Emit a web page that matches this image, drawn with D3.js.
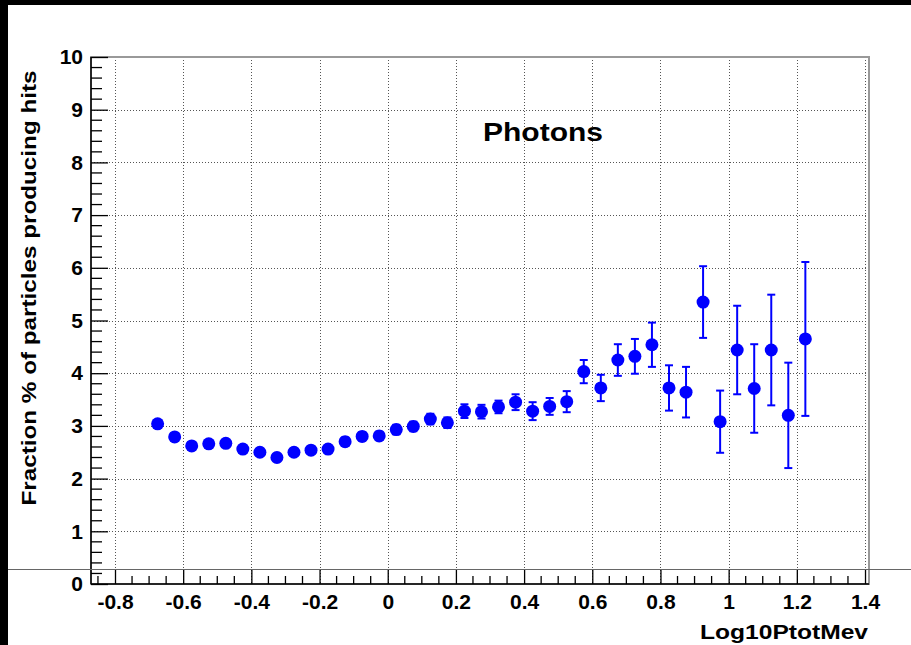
<!DOCTYPE html>
<html><head><meta charset="utf-8">
<script src="https://cdn.jsdelivr.net/npm/d3@7"></script>
<style>body{margin:0;background:#fff}svg{display:block}</style>
</head><body>
<script>
const xCenters = [-0.675,-0.625,-0.575,-0.525,-0.475,-0.425,-0.375,-0.325,-0.275,-0.225,-0.175,-0.125,-0.075,-0.025,0.025,0.075,0.125,0.175,0.225,0.275,0.325,0.375,0.425,0.475,0.525,0.575,0.625,0.675,0.725,0.775,0.825,0.875,0.925,0.975,1.025,1.075,1.125,1.175,1.225];
const yValues = [3.04,2.79,2.62,2.66,2.67,2.56,2.50,2.40,2.50,2.54,2.56,2.70,2.80,2.81,2.93,2.99,3.13,3.06,3.28,3.27,3.36,3.45,3.28,3.37,3.46,4.03,3.72,4.25,4.32,4.54,3.72,3.64,5.35,3.08,4.44,3.71,4.44,3.20,4.65];
const yErrors = [0.07,0.07,0.07,0.07,0.07,0.07,0.07,0.07,0.07,0.07,0.07,0.08,0.08,0.08,0.09,0.09,0.10,0.10,0.13,0.13,0.12,0.15,0.17,0.16,0.20,0.22,0.25,0.30,0.33,0.42,0.43,0.48,0.68,0.59,0.84,0.84,1.05,1.00,1.46];
const xTicks = [-0.8,-0.6,-0.4,-0.2,0,0.2,0.4,0.6,0.8,1,1.2,1.4];
const xTickLabels = ["-0.8","-0.6","-0.4","-0.2","0","0.2","0.4","0.6","0.8","1","1.2","1.4"];
const yTicks = [0,1,2,3,4,5,6,7,8,9,10];
const title = "Photons";
const xTitle = "Log10PtotMev";
const yTitle = "Fraction % of particles producing hits";

const W = 911, H = 645;
const svg = d3.select("body").append("svg").attr("width", W).attr("height", H);
svg.append("rect").attr("width", W).attr("height", H).attr("fill", "#fff");
svg.append("rect").attr("x",0).attr("y",0).attr("width",W).attr("height",5).attr("fill","#000");
svg.append("rect").attr("x",0).attr("y",0).attr("width",8).attr("height",H).attr("fill","#000");

const x = d3.scaleLinear().domain([-0.8704, 1.4117]).range([91, 869]);
const y = d3.scaleLinear().domain([0, 10]).range([584, 57]);
const font = "'Liberation Sans', Arial, Helvetica, sans-serif";

const grid = svg.append("g").attr("stroke", "#555").attr("stroke-width", 1).attr("stroke-dasharray", "1,2");
grid.selectAll("line.v").data(xTicks).join("line")
  .attr("x1", d => Math.round(x(d))+0.5).attr("x2", d => Math.round(x(d))+0.5)
  .attr("y1", y(10)).attr("y2", y(0));
grid.selectAll("line.h").data(yTicks.slice(1, -1)).join("line")
  .attr("y1", d => Math.round(y(d))+0.5).attr("y2", d => Math.round(y(d))+0.5)
  .attr("x1", x.range()[0]).attr("x2", x.range()[1]);

svg.append("rect").attr("x", 91).attr("y", 57).attr("width", 869-91).attr("height", 584-57)
  .attr("fill", "none").attr("stroke", "#999").attr("stroke-width", 2);

const xMinor = d3.range(-0.85, 1.4001, 0.05).filter(v => Math.abs(Math.round(v*5) - v*5) > 1e-6);
const xAxis = svg.append("g").attr("transform", "translate(0,584)");
xAxis.call(d3.axisBottom(x).tickValues(xTicks).tickSize(-15).tickPadding(20)
  .tickFormat((d, i) => xTickLabels[i]));
xAxis.selectAll(".tick line").attr("stroke", "#000").attr("stroke-width", 1.3);
xAxis.selectAll("line.minor").data(xMinor).join("line").attr("class","minor")
  .attr("x1", d => x(d)).attr("x2", d => x(d)).attr("y1", 0).attr("y2", -8)
  .attr("stroke", "#000").attr("stroke-width", 1.3);
xAxis.select(".domain").attr("stroke", "#000").attr("stroke-width", 1.5).attr("d", "M91,0H869");
xAxis.selectAll(".tick text").attr("font-family", font).attr("font-weight", "bold")
  .attr("font-size", 21).attr("fill", "#000").attr("dy", "0.71em").attr("y", 10);

const yMinor = d3.range(0, 10.0001, 0.2).filter(v => Math.abs(Math.round(v) - v) > 1e-6);
const yAxis = svg.append("g").attr("transform", "translate(91,0)");
yAxis.call(d3.axisLeft(y).tickValues(yTicks).tickSize(-17).tickPadding(8));
yAxis.selectAll(".tick line").attr("stroke", "#000").attr("stroke-width", 1.3);
yAxis.selectAll("line.minor").data(yMinor).join("line").attr("class","minor")
  .attr("y1", d => y(d)).attr("y2", d => y(d)).attr("x1", 0).attr("x2", 11)
  .attr("stroke", "#000").attr("stroke-width", 1.3);
yAxis.select(".domain").attr("stroke", "#000").attr("stroke-width", 1.5).attr("d", "M0,57V584");
yAxis.selectAll(".tick text").attr("font-family", font).attr("font-weight", "bold")
  .attr("font-size", 21).attr("fill", "#000").attr("x", -8);

const data = xCenters.map((c, i) => ({x: c, y: yValues[i], e: yErrors[i]}));
const eb = svg.append("g").attr("stroke", "#0000ff").attr("stroke-width", 2);
eb.selectAll("line.bar").data(data).join("line")
  .attr("x1", d => x(d.x)).attr("x2", d => x(d.x))
  .attr("y1", d => y(d.y + d.e)).attr("y2", d => y(d.y - d.e));
eb.selectAll("line.capT").data(data).join("line")
  .attr("x1", d => x(d.x)-4).attr("x2", d => x(d.x)+4)
  .attr("y1", d => y(d.y + d.e)).attr("y2", d => y(d.y + d.e));
eb.selectAll("line.capB").data(data).join("line")
  .attr("x1", d => x(d.x)-4).attr("x2", d => x(d.x)+4)
  .attr("y1", d => y(d.y - d.e)).attr("y2", d => y(d.y - d.e));
svg.append("g").selectAll("circle").data(data).join("circle")
  .attr("cx", d => x(d.x)).attr("cy", d => y(d.y)).attr("r", 6.5).attr("fill", "#0000ff");

svg.append("line").attr("x1", 8).attr("x2", W).attr("y1", 569.5).attr("y2", 569.5)
  .attr("stroke", "#666").attr("stroke-width", 1);

svg.append("text").attr("x", 543).attr("y", 141).attr("text-anchor", "middle")
  .attr("font-family", font).attr("font-weight", "bold").attr("font-size", 25)
  .attr("textLength", 120).attr("lengthAdjust", "spacingAndGlyphs").text(title);
svg.append("text").attr("x", 868).attr("y", 639).attr("text-anchor", "end")
  .attr("font-family", font).attr("font-weight", "bold").attr("font-size", 21)
  .attr("textLength", 168).attr("lengthAdjust", "spacingAndGlyphs").text(xTitle);
svg.append("text").attr("transform", "translate(36,288) rotate(-90)").attr("text-anchor", "middle")
  .attr("font-family", font).attr("font-weight", "bold").attr("font-size", 21)
  .attr("textLength", 435).attr("lengthAdjust", "spacingAndGlyphs").text(yTitle);
</script>
</body></html>
